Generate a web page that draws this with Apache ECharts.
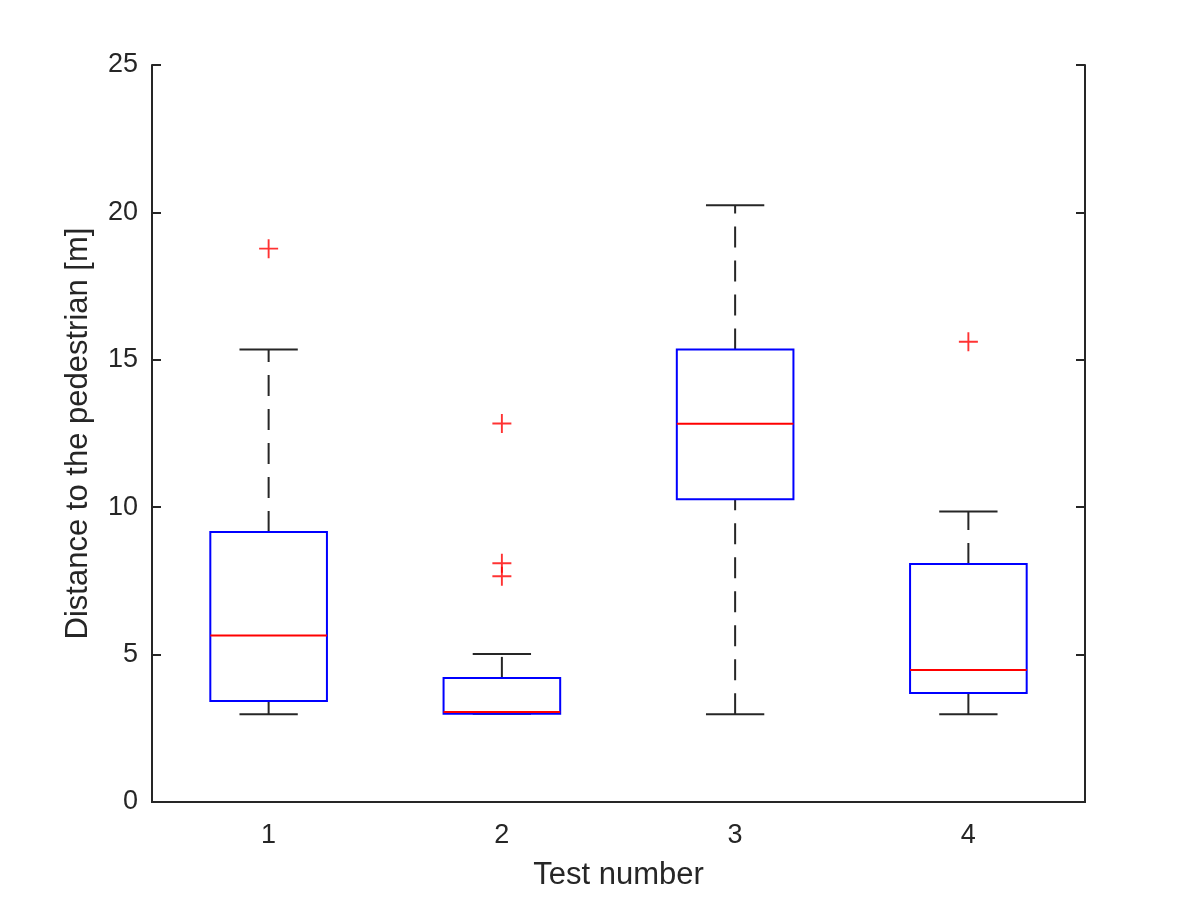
<!DOCTYPE html>
<html>
<head>
<meta charset="utf-8">
<title>Distance to the pedestrian</title>
<script src="https://cdn.jsdelivr.net/npm/echarts@6/dist/echarts.min.js"></script>
<style>
    html, body { margin: 0; padding: 0; background: #fff; }
    #chart { width: 1196px; height: 901px; }
</style>
</head>
<body>
<div id="chart"></div>
<script>
// 数据
const categories = ['1', '2', '3', '4'];
const whiskerLow = [2.98, 2.99, 2.98, 2.98];
const quartile1 = [3.43, 2.99, 10.27, 3.70];
const medians = [5.65, 3.05, 12.83, 4.48];
const quartile3 = [9.16, 4.21, 15.35, 8.07];
const whiskerHigh = [15.35, 5.02, 20.24, 9.85];
// [类别索引, 值]
const outliers = [[0, 18.77], [1, 12.84], [1, 8.10], [1, 7.66], [3, 15.61]];

const yTicks = { min: 0, max: 25, interval: 5 };

const AXIS_COLOR = '#262626';
const FONT = 'Liberation Sans';

const boxData = categories.map((c, i) => [
    i, whiskerLow[i], quartile1[i], medians[i], quartile3[i], whiskerHigh[i]
]);

/**
 * 绘制单个箱线（蓝框、红中位线、黑色虚线须）
 */
function renderBox(params, api) {
    const idx = api.value(0);
    const pLow = api.coord([idx, api.value(1)]);
    const pQ1 = api.coord([idx, api.value(2)]);
    const pMed = api.coord([idx, api.value(3)]);
    const pQ3 = api.coord([idx, api.value(4)]);
    const pHigh = api.coord([idx, api.value(5)]);
    const band = api.size([1, 0])[0];
    const cx = pMed[0];
    const halfBox = band * 0.25;
    const halfCap = band * 0.125;

    const whisker = { stroke: AXIS_COLOR, lineWidth: 2, lineDash: [21, 13] };
    const cap = { stroke: AXIS_COLOR, lineWidth: 2 };

    return {
        type: 'group',
        children: [
            { type: 'line', shape: { x1: cx, y1: pLow[1], x2: cx, y2: pQ1[1] }, style: whisker },
            { type: 'line', shape: { x1: cx, y1: pQ3[1], x2: cx, y2: pHigh[1] }, style: whisker },
            { type: 'line', shape: { x1: cx - halfCap, y1: pLow[1], x2: cx + halfCap, y2: pLow[1] }, style: cap },
            { type: 'line', shape: { x1: cx - halfCap, y1: pHigh[1], x2: cx + halfCap, y2: pHigh[1] }, style: cap },
            {
                type: 'rect',
                shape: { x: cx - halfBox, y: pQ3[1], width: halfBox * 2, height: pQ1[1] - pQ3[1] },
                style: { fill: 'none', stroke: '#0000ff', lineWidth: 2 }
            },
            {
                type: 'line',
                shape: { x1: cx - halfBox, y1: pMed[1], x2: cx + halfBox, y2: pMed[1] },
                style: { stroke: '#ff0000', lineWidth: 2 }
            }
        ]
    };
}

const chart = echarts.init(document.getElementById('chart'));

const tickStyle = { inside: true, length: 9, lineStyle: { color: AXIS_COLOR, width: 2 } };
const lineStyle = { lineStyle: { color: AXIS_COLOR, width: 2 } };

chart.setOption({
    animation: false,
    grid: { left: 152, right: 111, top: 65, bottom: 99 },
    xAxis: [{
        type: 'category',
        data: categories,
        position: 'bottom',
        axisLine: lineStyle,
        axisTick: Object.assign({ alignWithLabel: true }, tickStyle),
        axisLabel: { color: AXIS_COLOR, fontFamily: FONT, fontSize: 27, margin: 20 },
        name: 'Test number',
        nameLocation: 'middle',
        nameGap: 58,
        nameTextStyle: { color: AXIS_COLOR, fontFamily: FONT, fontSize: 31 }
    }, {
        type: 'category',
        data: categories,
        position: 'top',
        axisLine: lineStyle,
        axisTick: Object.assign({ alignWithLabel: true }, tickStyle),
        axisLabel: { show: false }
    }],
    yAxis: [{
        type: 'value',
        min: yTicks.min,
        max: yTicks.max,
        interval: yTicks.interval,
        position: 'left',
        axisLine: Object.assign({ show: true }, lineStyle),
        axisTick: Object.assign({ show: true }, tickStyle),
        axisLabel: { color: AXIS_COLOR, fontFamily: FONT, fontSize: 27, margin: 14 },
        splitLine: { show: false },
        name: 'Distance to the pedestrian [m]',
        nameLocation: 'middle',
        nameGap: 58,
        nameTextStyle: { color: AXIS_COLOR, fontFamily: FONT, fontSize: 31 }
    }, {
        type: 'value',
        min: yTicks.min,
        max: yTicks.max,
        interval: yTicks.interval,
        position: 'right',
        axisLine: Object.assign({ show: true }, lineStyle),
        axisTick: Object.assign({ show: true }, tickStyle),
        axisLabel: { show: false },
        splitLine: { show: false }
    }],
    series: [{
        type: 'custom',
        xAxisIndex: 0,
        yAxisIndex: 0,
        renderItem: renderBox,
        encode: { x: 0, y: [1, 2, 3, 4, 5] },
        data: boxData,
        z: 2
    }, {
        type: 'scatter',
        xAxisIndex: 0,
        yAxisIndex: 0,
        symbol: 'path://M9,0H11V9H20V11H11V20H9V11H0V9H9Z',
        symbolSize: 19,
        itemStyle: { color: '#ff0000' },
        data: outliers,
        z: 3
    }]
});
</script>
</body>
</html>
